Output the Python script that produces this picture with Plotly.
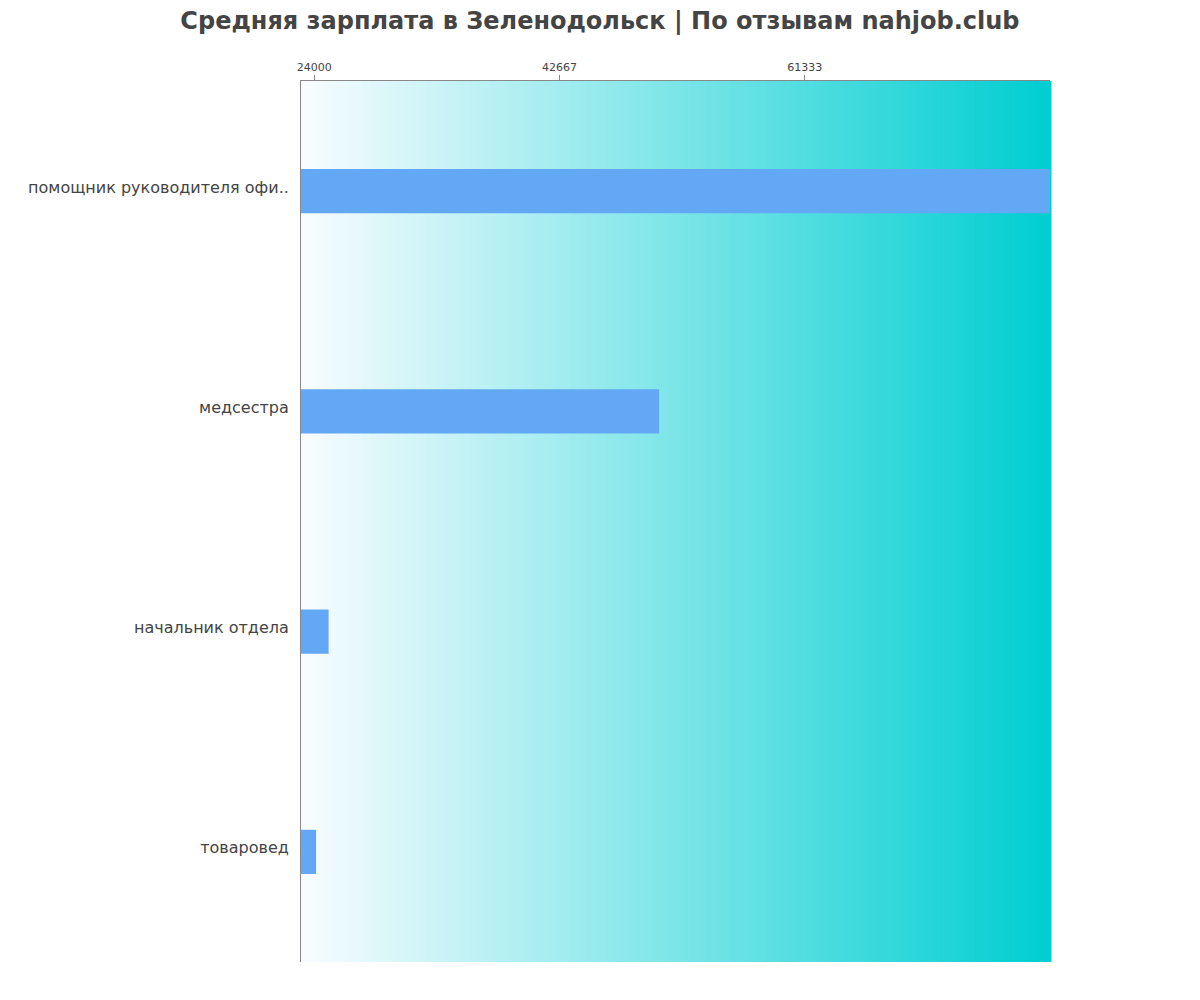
import plotly.graph_objects as go

categories = ["помощник руководителя офи..", "медсестра", "начальник отдела", "товаровед"]
values = [80000, 50250, 25100, 24150]
tick_vals = [24000, 42667, 61333]
tick_text = ["24000", "42667", "61333"]
x_range = [23000, 80000]

title = "Средняя зарплата в Зеленодольск | По отзывам nahjob.club"

fig = go.Figure()
fig.add_trace(go.Bar(
    x=values, y=categories, orientation="h",
    marker=dict(color="#62A8F4", line=dict(width=0)),
    width=0.2,
))

# gradient background
left = (248, 252, 255)
right = (0, 206, 209)
n = 150
shapes = []
for i in range(n):
    t = i / (n - 1)
    c = tuple(round(left[k] + (right[k] - left[k]) * t) for k in range(3))
    shapes.append(dict(type="rect", xref="paper", yref="paper",
                       x0=i / n, x1=(i + 1) / n + 0.002, y0=0, y1=1,
                       fillcolor="rgb(%d,%d,%d)" % c, line=dict(width=0), layer="below"))

fig.update_layout(
    width=1200, height=1000,
    margin=dict(l=293, r=158, t=73, b=46),
    paper_bgcolor="white", plot_bgcolor="rgba(0,0,0,0)",
    shapes=shapes,
    showlegend=False,
    font=dict(family="DejaVu Sans", color="#444"),
    title=dict(text="<b>" + title + "</b>", x=0.4933, xanchor="center", y=1, yanchor="top",
               pad=dict(t=4, b=0, l=0, r=0),
               font=dict(size=24, color="#444", family="DejaVu Sans")),
    xaxis=dict(side="top", range=x_range, tickvals=tick_vals, ticktext=tick_text,
               showgrid=False, zeroline=False, showline=True, linecolor="#888", linewidth=1,
               ticks="outside", ticklen=5, tickcolor="#888",
               tickfont=dict(size=11, color="#444")),
    yaxis=dict(categoryorder="array", categoryarray=categories[::-1],
               showgrid=False, zeroline=False, showline=True, linecolor="#888", linewidth=1,
               ticks="outside", ticklen=8, tickcolor="rgba(0,0,0,0)",
               ticklabelshift=-4,
               tickfont=dict(size=16, color="#444")),
    bargap=0.8,
)

fig.write_html("out.html")
